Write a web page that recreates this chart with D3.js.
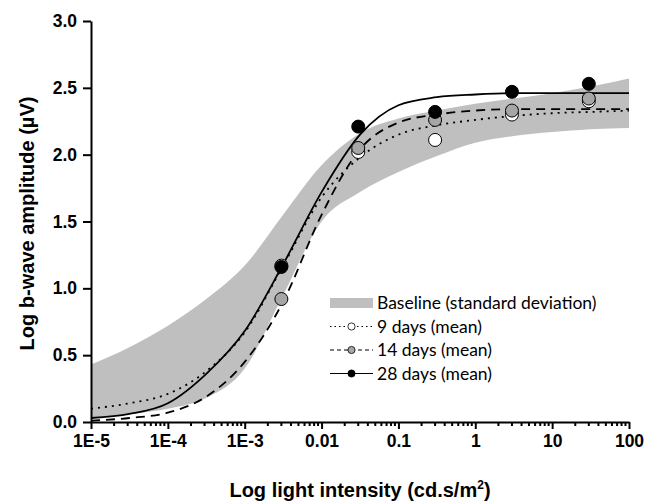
<!DOCTYPE html>
<html>
<head>
<meta charset="utf-8">
<title>ERG b-wave intensity response</title>
<script src="https://d3js.org/d3.v7.min.js"></script>
<style>
  body { margin: 0; background: #fff; }
  svg { display: block; }
  .axis path, .axis line { stroke: #000; stroke-width: 2; }
  .axis text { font-family: "Liberation Sans", Arial, sans-serif; font-weight: bold; font-size: 17.5px; fill: #000; }
  .title { font-family: "Liberation Sans", Arial, sans-serif; font-weight: bold; font-size: 20px; }
</style>
</head>
<body>
<div id="chart"></div>
<script>
// fitted curves and band, read at half-decade steps (log10 intensity)
var curveX = [-5, -4.5, -4, -3.5, -3, -2.5, -2, -1.5, -1, -0.5, 0, 0.5, 1, 1.5, 2];
var bandUpper = [0.43, 0.56, 0.72, 0.92, 1.17, 1.55, 1.92, 2.16, 2.27, 2.33, 2.38, 2.42, 2.46, 2.51, 2.57];
var bandLower = [0.03, 0.06, 0.10, 0.18, 0.40, 0.95, 1.50, 1.72, 1.87, 1.99, 2.09, 2.14, 2.17, 2.19, 2.20];
var fit9 = [0.10, 0.14, 0.21, 0.38, 0.67, 1.17, 1.68, 1.98, 2.15, 2.22, 2.26, 2.29, 2.31, 2.32, 2.33];
var fit14 = [0.01, 0.03, 0.07, 0.19, 0.45, 0.90, 1.55, 2.04, 2.24, 2.30, 2.33, 2.34, 2.34, 2.34, 2.34];
var fit28 = [0.03, 0.06, 0.14, 0.36, 0.68, 1.18, 1.72, 2.15, 2.37, 2.43, 2.45, 2.46, 2.46, 2.46, 2.46];

// measured means
var intensities = [0.003, 0.03, 0.3, 3, 30];
var mean9 = [1.17, 2.02, 2.11, 2.30, 2.40];
var mean14 = [0.92, 2.05, 2.26, 2.33, 2.42];
var mean28 = [1.16, 2.21, 2.32, 2.47, 2.53];

var xTicks = [1e-5, 1e-4, 1e-3, 0.01, 0.1, 1, 10, 100];
var xTickLabels = ["1E-5", "1E-4", "1E-3", "0.01", "0.1", "1", "10", "100"];
var yTicks = [0, 0.5, 1, 1.5, 2, 2.5, 3];

var width = 647, height = 501;
var margin = {top: 21, right: 18, bottom: 79, left: 91};

var svg = d3.select("#chart").append("svg")
  .attr("width", width)
  .attr("height", height);

var x = d3.scaleLog().domain([1e-5, 100]).range([margin.left, width - margin.right]);
var y = d3.scaleLinear().domain([0, 3]).range([height - margin.bottom, margin.top]);

function pts(vals) {
  return curveX.map(function(lx, i) { return [Math.pow(10, lx), vals[i]]; });
}

// baseline SD band
var area = d3.area()
  .x(function(d, i) { return x(Math.pow(10, curveX[i])); })
  .y0(function(d, i) { return y(bandLower[i]); })
  .y1(function(d) { return y(d); })
  .curve(d3.curveMonotoneX);

svg.append("path")
  .datum(bandUpper)
  .attr("d", area)
  .attr("fill", "#bfbfbf");

var line = d3.line()
  .x(function(d) { return x(d[0]); })
  .y(function(d) { return y(d[1]); })
  .curve(d3.curveMonotoneX);

var series = [
  {fit: fit9, mean: mean9, fill: "#fff", dash: "2,5"},
  {fit: fit14, mean: mean14, fill: "#a6a6a6", dash: "9,6"},
  {fit: fit28, mean: mean28, fill: "#000", dash: null}
];

series.forEach(function(s) {
  svg.append("path")
    .datum(pts(s.fit))
    .attr("d", line)
    .attr("fill", "none")
    .attr("stroke", "#000")
    .attr("stroke-width", 1.8)
    .attr("stroke-dasharray", s.dash);
});

series.forEach(function(s) {
  svg.selectAll(null)
    .data(intensities)
    .enter()
    .append("circle")
    .attr("cx", function(d) { return x(d); })
    .attr("cy", function(d, i) { return y(s.mean[i]); })
    .attr("r", 6.5)
    .attr("fill", s.fill)
    .attr("stroke", "#000")
    .attr("stroke-width", 1);
});

// axes
var xAxis = svg.append("g")
  .attr("class", "axis")
  .attr("transform", "translate(0," + y(0) + ")")
  .call(d3.axisBottom(x).tickValues(xTicks)
    .tickFormat(function(d, i) { return xTickLabels[i]; })
    .tickSize(7).tickSizeOuter(0).tickPadding(6));

var minor = [];
for (var e = -5; e < 2; e++) {
  for (var m = 2; m <= 9; m++) minor.push(m * Math.pow(10, e));
}
xAxis.selectAll("line.minor")
  .data(minor)
  .enter()
  .append("line")
  .attr("class", "minor")
  .attr("x1", function(d) { return x(d); })
  .attr("x2", function(d) { return x(d); })
  .attr("y1", 0)
  .attr("y2", 4)
  .attr("stroke", "#000")
  .attr("stroke-width", 1.5);

svg.append("g")
  .attr("class", "axis")
  .attr("transform", "translate(" + margin.left + ",0)")
  .call(d3.axisLeft(y).tickValues(yTicks).tickFormat(d3.format(".1f"))
    .tickSize(8).tickSizeOuter(0).tickPadding(6));

svg.append("text")
  .attr("class", "title")
  .attr("x", (margin.left + width - margin.right) / 2)
  .attr("y", 497)
  .attr("text-anchor", "middle")
  .html("Log light intensity (cd.s/m<tspan dy='-8' font-size='12px'>2</tspan><tspan dy='8'>)</tspan>");

svg.append("text")
  .attr("class", "title")
  .attr("transform", "translate(34," + (y(1.5) + 2) + ") rotate(-90)")
  .attr("text-anchor", "middle")
  .text("Log b-wave amplitude (\u00b5V)");

// legend
var legendNames = ["Baseline (standard deviation)", "9 days (mean)", "14 days (mean)", "28 days (mean)"];
var lg = svg.append("g").attr("transform", "translate(330,303)");
legendNames.forEach(function(name, i) {
  var row = lg.append("g").attr("transform", "translate(0," + (i * 23.5) + ")");
  if (i === 0) {
    row.append("rect").attr("x", 0).attr("y", -5).attr("width", 43).attr("height", 10).attr("fill", "#bfbfbf");
  } else {
    var s = series[i - 1];
    row.append("line").attr("x1", 0).attr("x2", 43).attr("y1", 0).attr("y2", 0)
      .attr("stroke", "#000").attr("stroke-width", 1.2)
      .attr("stroke-dasharray", i === 1 ? "1.5,3" : i === 2 ? "4,3" : null);
    row.append("circle").attr("cx", 21.5).attr("cy", 0).attr("r", 3.6)
      .attr("fill", s.fill).attr("stroke", "#000").attr("stroke-width", 0.8);
  }
  row.append("text")
    .attr("x", 47)
    .attr("y", 6)
    .style("font-family", "Lato, 'Open Sans', sans-serif")
    .style("font-size", "17.5px")
    .text(name);
});
</script>
</body>
</html>
